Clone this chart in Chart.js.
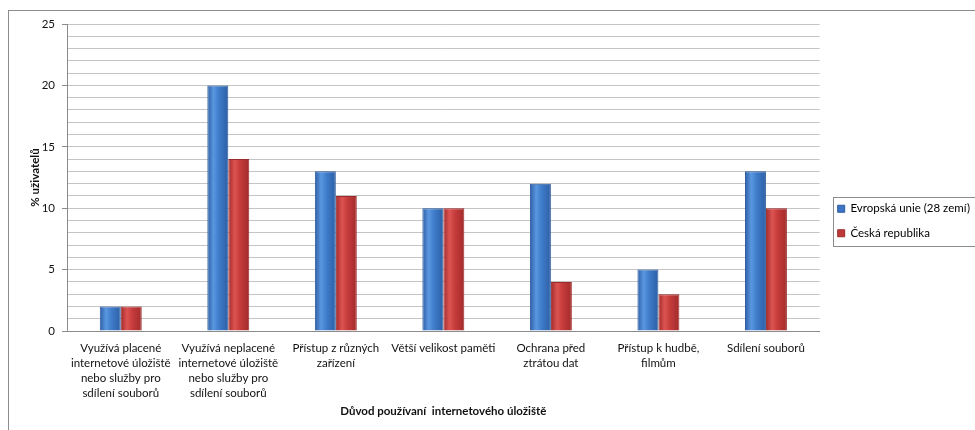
<!DOCTYPE html>
<html>
<head>
<meta charset="utf-8">
<script src="https://cdn.jsdelivr.net/npm/chart.js@4.4.1/dist/chart.umd.min.js"></script>
<style>
  html, body { margin: 0; padding: 0; background: #fff; }
  #wrap { position: relative; width: 975px; height: 430px; }
  #frame { position: absolute; left: 8px; top: 10px; right: -2px; bottom: -2px; border-left: 1px solid #8c8c8c; border-top: 1px solid #8c8c8c; pointer-events: none; }
  canvas { position: absolute; left: 0; top: 0; }
</style>
</head>
<body>
<div id="wrap">
  <canvas id="c" width="975" height="430"></canvas>
  <div id="frame"></div>
</div>
<script>
// Reasons for using online storage
const categories = [
  ["Využívá placené", "internetové úložiště", "nebo služby pro", "sdílení souborů"],
  ["Využívá neplacené", "internetové úložiště", "nebo služby pro", "sdílení souborů"],
  ["Přístup z různých", "zařízení"],
  ["Větší velikost paměti"],
  ["Ochrana před", "ztrátou dat"],
  ["Přístup k hudbě,", "filmům"],
  ["Sdílení souborů"]
];
const seriesNames = ["Evropská unie (28 zemí)", "Česká republika"];
const euValues = [2, 20, 13, 10, 12, 5, 13];
const czValues = [2, 14, 11, 10, 4, 3, 10];
const yTicks = [0, 5, 10, 15, 20, 25];
const yTitle = "% uživatelů";
const xTitle = "Důvod používaní  internetového úložiště";

const FONT = "Lato, 'Open Sans', sans-serif";
const FS = 11.5;
const TEXT = '#111111';

// Horizontal shading across each bar, dark edges and a lighter middle
function shaded(edge, mid, light, flat) {
  return function (c) {
    const meta = c.chart.getDatasetMeta(c.datasetIndex);
    const el = meta && meta.data[c.dataIndex];
    if (!el || typeof el.x !== 'number' || !isFinite(el.x) || !el.width) return flat;
    const l = el.x - el.width / 2, r = el.x + el.width / 2;
    const g = c.chart.ctx.createLinearGradient(l, 0, r, 0);
    g.addColorStop(0, edge);
    g.addColorStop(0.3, light);
    g.addColorStop(0.55, mid);
    g.addColorStop(1, edge);
    return g;
  };
}

// Nudge the legend a little to the right of its slot and frame its entries
const legendFrame = {
  id: 'legendFrame',
  afterLayout(chart) {
    const lg = chart.legend;
    if (!lg) return;
    lg.left += 5;
    lg.right += 5;
  },
  afterDraw(chart) {
    const lg = chart.legend;
    if (!lg || !lg.legendHitBoxes || !lg.legendHitBoxes.length) return;
    const boxes = lg.legendHitBoxes;
    let minX = Infinity, minY = Infinity, maxY = -Infinity;
    boxes.forEach(b => {
      minX = Math.min(minX, b.left);
      minY = Math.min(minY, b.top + b.height / 2);
      maxY = Math.max(maxY, b.top + b.height / 2);
    });
    const ctx = chart.ctx;
    ctx.save();
    ctx.strokeStyle = '#8c8c8c';
    ctx.lineWidth = 1;
    const x = Math.round(minX - 5) + 0.5;
    const y = Math.round(minY - 12) + 0.5;
    ctx.strokeRect(x, y, chart.width - x + 5, Math.round(maxY - minY + 24));
    ctx.restore();
  }
};

const chart = new Chart(document.getElementById('c'), {
  type: 'bar',
  data: {
    labels: categories,
    datasets: [
      {
        label: seriesNames[0],
        data: euValues,
        backgroundColor: shaded('#2d5fa6', '#3f7cca', '#5a97e0', '#3d76c6'),
        borderColor: '#2b5a9c',
        borderWidth: 1,
        borderSkipped: 'bottom'
      },
      {
        label: seriesNames[1],
        data: czValues,
        backgroundColor: shaded('#a22b2b', '#c63c3c', '#dc5452', '#c0393a'),
        borderColor: '#9c2a2a',
        borderWidth: 1,
        borderSkipped: 'bottom'
      }
    ]
  },
  options: {
    responsive: false,
    animation: false,
    devicePixelRatio: 1,
    datasets: { bar: { barPercentage: 1, categoryPercentage: 0.39 } },
    layout: { padding: { left: 20, right: 0, top: 24, bottom: 12 } },
    plugins: {
      legend: {
        position: 'right',
        align: 'center',
        labels: {
          font: { family: FONT, size: FS },
          color: TEXT,
          boxWidth: 7,
          boxHeight: 7,
          padding: 13,
          generateLabels(chart) {
            const cols = ['#3d76c6', '#c0393a'];
            const borders = ['#2b5a9c', '#9c2a2a'];
            return chart.data.datasets.map((d, i) => ({
              text: d.label,
              fillStyle: cols[i],
              strokeStyle: borders[i],
              lineWidth: 1,
              datasetIndex: i,
              hidden: false
            }));
          }
        }
      },
      tooltip: { enabled: false }
    },
    scales: {
      x: {
        afterFit(s) { s.height = 87; },
        grid: { display: false, drawTicks: false },
        border: { display: true, color: '#8c8c8c' },
        ticks: {
          font: { family: FONT, size: FS, lineHeight: 1.3 },
          color: TEXT,
          maxRotation: 0,
          autoSkip: false,
          padding: 10
        },
        title: {
          display: true,
          text: xTitle,
          font: { family: FONT, size: FS, weight: 'bold' },
          color: TEXT,
          padding: { top: 0, bottom: 0 }
        }
      },
      y: {
        min: 0,
        max: 25,
        afterFit(s) { s.width = 47; },
        afterBuildTicks(s) {
          const t = [];
          for (let v = 0; v <= 25; v++) t.push({ value: v });
          s.ticks = t;
        },
        grid: {
          color: '#c4c4c4',
          tickLength: 5,
          tickColor: (c) => (c.tick && yTicks.includes(c.tick.value)) ? '#8c8c8c' : 'rgba(0,0,0,0)'
        },
        border: { display: true, color: '#8c8c8c' },
        ticks: {
          font: { family: FONT, size: FS },
          color: TEXT,
          padding: 7,
          autoSkip: false,
          callback: (v) => yTicks.includes(v) ? String(v) : ''
        },
        title: {
          display: true,
          text: yTitle,
          font: { family: FONT, size: FS, weight: 'bold' },
          color: TEXT,
          padding: { top: 8, bottom: 0 }
        }
      }
    }
  },
  plugins: [legendFrame]
});
// Second pass so the bar shading can use the laid-out bar positions
chart.update('none');
</script>
</body>
</html>
